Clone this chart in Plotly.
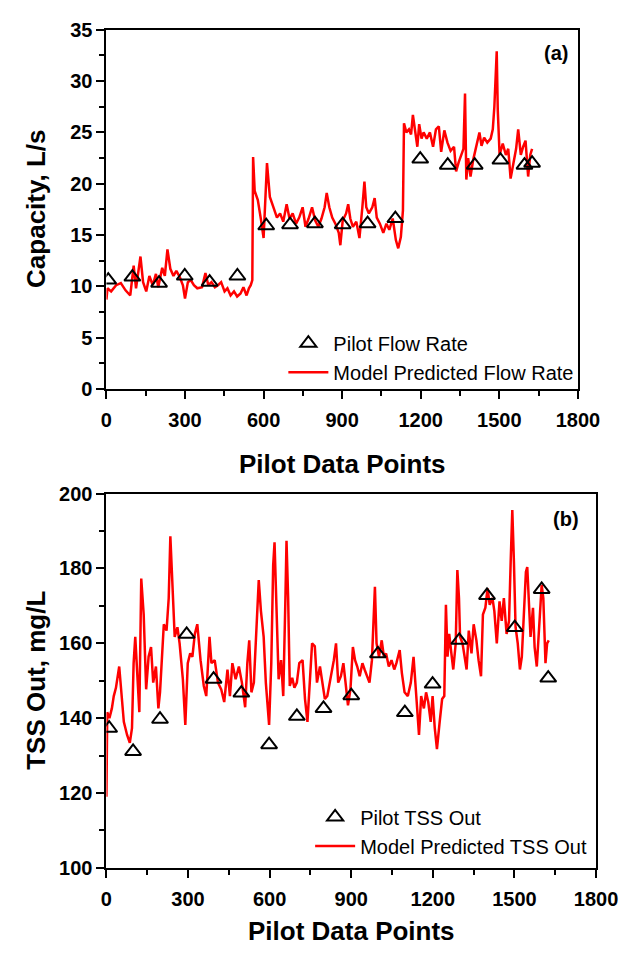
import plotly.graph_objects as go

# ---------------- Panel (a): capacity ----------------
pilot_flow_x = [7, 99, 201, 299, 394, 500, 610, 701, 796, 902, 997, 1103, 1198, 1303, 1406, 1504, 1596, 1625]
pilot_flow_y = [10.6, 10.9, 10.3, 11.0, 10.4, 11.0, 15.9, 16.0, 16.1, 16.0, 16.1, 16.6, 22.4, 21.8, 21.8, 22.3, 21.8, 22.0]

model_flow_x = [0, 4, 18, 37, 55, 73, 91, 104, 113, 130, 140, 152, 164, 177, 189, 198, 213, 223, 233, 244,
                256, 267, 280, 292, 300, 311, 322, 334, 347, 365, 378, 389, 401, 414, 426, 438, 451, 462, 474, 487,
                499, 512, 523, 535, 544, 551, 557, 560, 566, 578, 590, 600, 613, 624, 639, 651, 663, 675, 688, 699,
                711, 724, 736, 749, 760, 772, 785, 797, 809, 821, 833, 841, 851, 862, 874, 887, 893, 902, 915, 923,
                931, 941, 954, 966, 977, 985, 992, 1002, 1015, 1024, 1032, 1044, 1057, 1069, 1080, 1093, 1105, 1114, 1124, 1132,
                1136, 1145, 1155, 1163, 1170, 1178, 1187, 1194, 1203, 1211, 1223, 1235, 1247, 1258, 1269, 1278, 1290, 1302, 1314, 1327,
                1335, 1345, 1357, 1363, 1369, 1374, 1381, 1390, 1400, 1411, 1424, 1432, 1442, 1454, 1467, 1475, 1481, 1490, 1494, 1501,
                1513, 1525, 1534, 1543, 1555, 1564, 1572, 1582, 1591, 1600, 1610, 1618, 1625]
model_flow_y = [8.7, 9.8, 9.5, 10.1, 10.3, 9.6, 9.1, 12.0, 9.8, 12.9, 10.4, 9.5, 11.0, 10.1, 11.2, 9.9, 11.8, 11.0, 13.6, 11.7,
                11.0, 11.5, 10.9, 10.1, 8.8, 10.4, 10.6, 10.1, 9.8, 9.9, 11.3, 10.1, 10.4, 9.9, 10.1, 10.4, 9.5, 9.8, 9.1, 9.5,
                9.0, 9.3, 9.9, 9.1, 9.8, 10.1, 10.6, 22.6, 19.3, 18.4, 16.5, 14.7, 22.0, 18.7, 17.6, 16.7, 17.1, 16.3, 18.0, 16.6,
                17.1, 16.1, 16.7, 17.7, 15.8, 16.6, 17.7, 16.4, 15.8, 16.6, 17.7, 19.1, 17.7, 16.7, 16.1, 15.2, 14.0, 16.4, 17.1, 18.0,
                16.6, 15.8, 16.3, 14.7, 17.7, 20.2, 17.7, 17.1, 17.7, 18.6, 16.7, 16.1, 15.2, 16.1, 15.5, 16.6, 14.5, 13.7, 14.8, 17.4,
                25.9, 25.0, 25.3, 24.8, 26.7, 25.0, 23.6, 25.8, 24.4, 25.0, 24.4, 25.0, 23.6, 25.3, 25.6, 23.1, 25.2, 24.0, 23.2, 23.6,
                21.2, 22.1, 23.1, 23.4, 28.8, 20.4, 22.5, 20.7, 22.3, 23.4, 25.0, 23.7, 24.5, 24.0, 24.4, 25.3, 27.5, 32.9, 27.2, 22.8,
                23.9, 22.8, 23.4, 20.5, 22.3, 23.4, 25.3, 22.8, 23.6, 24.2, 20.7, 22.8, 23.4]

# ---------------- Panel (b): TSS out ----------------
pilot_tss_x = [10, 98, 197, 295, 394, 496, 598, 700, 798, 900, 998, 1097, 1199, 1297, 1399, 1501, 1600, 1624]
pilot_tss_y = [137.3, 131.1, 139.7, 162.4, 150.4, 146.7, 132.9, 140.5, 142.6, 146.0, 157.2, 141.5, 149.1, 160.8, 172.8, 164.2, 174.4, 150.7]

model_tss_x = [0, 3, 11, 20, 27, 35, 47, 55, 64, 76, 86, 94, 100, 106, 114, 121, 128, 137, 146, 155,
               164, 172, 182, 191, 197, 205, 211, 221, 229, 235, 243, 251, 261, 269, 281, 290, 299, 308, 316, 325,
               334, 346, 358, 367, 379, 386, 398, 410, 422, 433, 445, 454, 463, 475, 487, 498, 510, 518, 525, 533,
               542, 551, 560, 568, 578, 586, 598, 606, 613, 618, 625, 633, 642, 650, 658, 662, 668, 674, 683, 691,
               700, 709, 721, 730, 739, 747, 756, 766, 774, 785, 793, 803, 812, 824, 836, 844, 852, 862, 871, 879,
               888, 897, 906, 914, 922, 931, 941, 949, 957, 967, 976, 982, 987, 993, 1002, 1012, 1020, 1028, 1038, 1048,
               1058, 1066, 1078, 1086, 1096, 1108, 1119, 1129, 1137, 1149, 1157, 1167, 1175, 1183, 1192, 1199, 1207, 1215, 1225, 1234,
               1242, 1248, 1254, 1260, 1268, 1275, 1284, 1290, 1296, 1300, 1309, 1316, 1324, 1332, 1342, 1350, 1360, 1368, 1377, 1384,
               1393, 1401, 1409, 1419, 1426, 1435, 1445, 1453, 1461, 1471, 1480, 1486, 1492, 1498, 1504, 1512, 1520, 1527, 1536, 1542,
               1547, 1553, 1559, 1568, 1574, 1582, 1590, 1600, 1606, 1614, 1620, 1626]
model_tss_y = [119.0, 141.6, 140.0, 142.6, 145.9, 148.1, 153.8, 145.9, 139.0, 135.5, 133.4, 137.3, 154.7, 161.7, 149.5, 141.6, 177.3, 167.7, 147.7, 156.4,
               159.0, 149.5, 153.8, 142.6, 146.9, 156.4, 165.1, 163.4, 172.1, 188.6, 173.9, 161.7, 164.3, 160.0, 150.4, 138.2, 154.7, 157.3, 156.4, 162.5,
               165.1, 155.5, 148.6, 145.9, 161.7, 154.7, 155.5, 149.5, 147.7, 144.3, 153.0, 145.9, 154.7, 150.4, 153.8, 149.5, 142.9, 154.7, 160.8, 146.9,
               149.5, 161.7, 176.9, 168.6, 161.7, 149.5, 138.2, 154.7, 180.9, 187.0, 172.1, 150.4, 155.5, 145.9, 172.1, 187.4, 172.1, 148.6, 150.8, 148.1,
               149.5, 154.7, 155.5, 145.1, 139.0, 149.5, 160.0, 159.2, 149.5, 153.8, 149.5, 145.1, 145.9, 150.4, 155.5, 160.0, 149.5, 151.2, 154.7, 149.5,
               143.4, 147.7, 159.0, 155.5, 153.8, 151.2, 154.7, 153.0, 151.2, 149.5, 155.5, 167.7, 175.1, 160.0, 156.4, 160.8, 156.4, 157.3, 153.8, 155.5,
               153.0, 154.7, 158.2, 152.1, 146.9, 145.9, 149.5, 156.4, 147.7, 135.5, 145.9, 142.6, 146.9, 144.3, 139.0, 145.9, 137.3, 131.7, 139.0, 145.1,
               145.9, 170.3, 156.4, 162.5, 157.3, 153.0, 160.0, 179.6, 172.1, 161.7, 160.0, 156.4, 153.0, 163.4, 157.3, 165.1, 160.8, 155.5, 151.2, 167.7,
               169.5, 174.7, 170.3, 172.1, 168.6, 160.0, 171.2, 166.0, 172.1, 162.5, 166.0, 181.7, 195.6, 181.7, 164.3, 160.0, 153.0, 156.4, 172.1, 179.1,
               180.4, 172.1, 161.7, 169.5, 159.0, 153.8, 164.3, 175.6, 172.1, 154.7, 160.0, 160.8]

x_ticks = [0, 300, 600, 900, 1200, 1500, 1800]

FONT = "Liberation Sans, Arial, sans-serif"
W, H = 642, 956
def px(xp): return xp / W
def py(yp): return 1 - yp / H

fig = go.Figure()

tri = dict(symbol="triangle-up-open", size=14, color="black", line=dict(color="black", width=2))
red = dict(color="#ff0000", width=2.5)

fig.add_trace(go.Scatter(x=model_flow_x, y=model_flow_y, mode="lines", line=red,
                         name="Model Predicted Flow Rate", xaxis="x", yaxis="y", legend="legend"))
fig.add_trace(go.Scatter(x=pilot_flow_x, y=pilot_flow_y, mode="markers", marker=tri,
                         name="Pilot Flow Rate", xaxis="x", yaxis="y", legend="legend"))
fig.add_trace(go.Scatter(x=model_tss_x, y=model_tss_y, mode="lines", line=red,
                         name="Model Predicted TSS Out", xaxis="x2", yaxis="y2", legend="legend2"))
fig.add_trace(go.Scatter(x=pilot_tss_x, y=pilot_tss_y, mode="markers", marker=tri,
                         name="Pilot TSS Out", xaxis="x2", yaxis="y2", legend="legend2"))

tickfont = dict(family=FONT, size=20, color="black", weight="bold")
base = dict(showline=True, linecolor="black", linewidth=2, mirror=True,
            ticks="outside", ticklen=8, tickwidth=2, tickcolor="black",
            showgrid=False, zeroline=False, tickfont=tickfont)
def minor(d):
    return dict(ticks="outside", ticklen=5, tickwidth=2, tickcolor="black", dtick=d)

title_font = dict(family=FONT, size=26, color="black", weight="bold")
lab_font = dict(family=FONT, size=20, color="black", weight="bold")

fig.update_layout(
    width=W, height=H, margin=dict(l=0, r=0, t=0, b=0),
    plot_bgcolor="white", paper_bgcolor="white",
    xaxis=dict(domain=[px(105), px(598)], range=[0, 1800], tickvals=x_ticks, anchor="y",
               minor=minor(150), ticklabelstandoff=4, **base),
    yaxis=dict(domain=[py(386.7), py(19.3)], range=[0, 35], dtick=5, anchor="x",
               minor=minor(2.5), **base),
    xaxis2=dict(domain=[px(105), px(617)], range=[0, 1800], tickvals=x_ticks, anchor="y2",
                minor=minor(150), ticklabelstandoff=4, **base),
    yaxis2=dict(domain=[py(877), py(494)], range=[100, 200], dtick=20, anchor="x2",
                minor=minor(10), **base),
    legend=dict(x=px(290), y=py(320), xanchor="left", yanchor="top", traceorder="reversed",
                bgcolor="rgba(0,0,0,0)", font=dict(family=FONT, size=20, color="black"),
                itemwidth=40, tracegroupgap=0),
    legend2=dict(x=px(318), y=py(805), xanchor="left", yanchor="top", traceorder="reversed",
                 bgcolor="rgba(0,0,0,0)", font=dict(family=FONT, size=20, color="black"),
                 itemwidth=40, tracegroupgap=0),
    annotations=[
        dict(text="(a)", x=px(575), y=py(43.5), xref="paper", yref="paper", showarrow=False,
             xanchor="center", yanchor="middle", font=lab_font),
        dict(text="(b)", x=px(586), y=py(520), xref="paper", yref="paper", showarrow=False,
             xanchor="center", yanchor="middle", font=lab_font),
        dict(text="Pilot Data Points", x=px(351.5), y=py(464), xref="paper", yref="paper",
             showarrow=False, xanchor="center", yanchor="middle", font=title_font),
        dict(text="Pilot Data Points", x=px(361), y=py(942), xref="paper", yref="paper",
             showarrow=False, xanchor="center", yanchor="middle", font=title_font),
        dict(text="Capacity, L/s", x=px(32), y=py(203), xref="paper", yref="paper", textangle=-90,
             showarrow=False, xanchor="center", yanchor="middle", font=title_font),
        dict(text="TSS Out, mg/L", x=px(32), y=py(685), xref="paper", yref="paper", textangle=-90,
             showarrow=False, xanchor="center", yanchor="middle", font=title_font),
    ],
)

fig.write_html("out.html")
